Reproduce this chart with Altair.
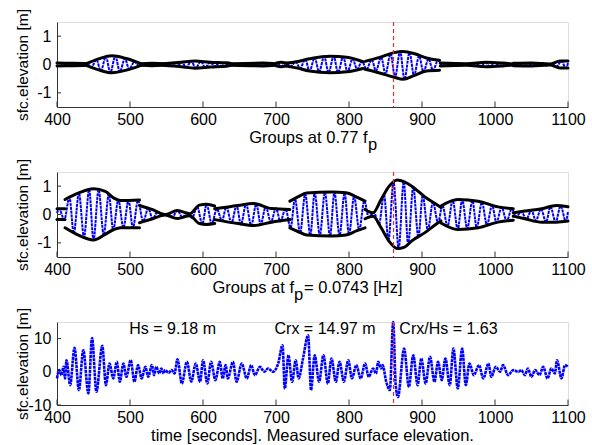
import altair as alt
import pandas as pd

# ---------------- data ----------------
X_TICKS = [400, 500, 600, 700, 800, 900, 1000, 1100]
CREST_T = [861]
Y12_TICKS = [-1, 0, 1]
Y3_TICKS = [-10, 0, 10]

# panel 1: filtered group signal at 0.77 fp (time, elevation) at crests/troughs
p1_wave = [(400, 0), (402, 0.04), (408, -0.04), (415, 0.04), (421, -0.04), (428, 0.04), (434, -0.04),
           (441, 0.04), (447, -0.1), (454, 0.17), (460, -0.23), (467, 0.28), (473, -0.29), (480, 0.3),
           (486, -0.26), (493, 0.21), (499, -0.17), (506, 0.1), (512, -0.04), (519, 0.03), (525, -0.03),
           (532, 0.03), (538, -0.03), (545, 0.03), (551, -0.04), (558, 0.05), (564, -0.07), (571, 0.08),
           (577, -0.1), (584, 0.12), (590, -0.13), (597, 0.11), (603, -0.1), (610, 0.08), (616, -0.07),
           (623, 0.07), (629, -0.06), (636, 0.03), (642, -0.03), (649, 0.03), (655, -0.03), (662, 0.03),
           (668, -0.03), (675, 0.03), (681, -0.03), (688, 0.03), (694, -0.03), (701, 0.06), (707, -0.07),
           (714, 0.05), (720, -0.07), (727, 0.1), (733, -0.14), (740, 0.18), (746, -0.23), (753, 0.24),
           (759, -0.26), (766, 0.28), (772, -0.29), (779, 0.29), (785, -0.28), (792, 0.27), (798, -0.26),
           (805, 0.2), (811, -0.16), (818, 0.11), (824, -0.17), (831, 0.17), (837, -0.22), (844, 0.26),
           (850, -0.33), (857, 0.38), (863, -0.45), (870, 0.46), (876, -0.52), (883, 0.42), (889, -0.4),
           (896, 0.3), (902, -0.26), (909, 0.2), (915, -0.21), (922, 0.15), (928, -0.05), (935, 0.04),
           (941, -0.04), (948, 0.03), (954, -0.03), (961, 0.03), (967, -0.04), (974, 0.05), (980, -0.07),
           (987, 0.08), (993, -0.08), (1000, 0.07), (1006, -0.06), (1013, 0.05), (1019, -0.04), (1026, 0.03),
           (1032, -0.04), (1039, 0.05), (1045, -0.05), (1052, 0.05), (1058, -0.05), (1065, 0.04),
           (1071, -0.03), (1078, 0.03), (1084, -0.08), (1091, 0.12), (1097, -0.12), (1100, 0.05)]

# panel 1 envelope: (segment, time, upper, lower)
p1_env = [(0, 400, 0.05, -0.05), (0, 422, 0.04, -0.04), (0, 440, 0.03, -0.03),
          (1, 440, 0.03, -0.03), (1, 457, 0.2, -0.19), (1, 475, 0.31, -0.29), (1, 495, 0.21, -0.2), (1, 515, 0.03, -0.03),
          (2, 515, 0.03, -0.03), (2, 530, 0.04, -0.04), (2, 545, 0.03, -0.03),
          (3, 545, 0.03, -0.03), (3, 570, 0.08, -0.08), (3, 589, 0.12, -0.13), (3, 610, 0.08, -0.09), (3, 632, 0.06, -0.06), (3, 640, 0.02, -0.02),
          (4, 640, 0.03, -0.03), (4, 682, 0.05, -0.05), (4, 700, 0.03, -0.03),
          (5, 700, 0.05, -0.05), (5, 707, 0.08, -0.08), (5, 714, 0.05, -0.05),
          (6, 714, 0.05, -0.05), (6, 728, 0.1, -0.12), (6, 746, 0.2, -0.23), (6, 774, 0.29, -0.29), (6, 797, 0.26, -0.26), (6, 819, 0.1, -0.14),
          (7, 822, 0.11, -0.17), (7, 842, 0.25, -0.3), (7, 862, 0.42, -0.45), (7, 874, 0.46, -0.52), (7, 890, 0.38, -0.38), (7, 906, 0.23, -0.23), (7, 924, 0.15, -0.2),
          (8, 925, 0.05, -0.05), (8, 961, 0.03, -0.03), (8, 988, 0.08, -0.08), (8, 1011, 0.05, -0.05), (8, 1025, 0.02, -0.02),
          (9, 1025, 0.04, -0.04), (9, 1050, 0.05, -0.05), (9, 1075, 0.02, -0.02), (9, 1089, 0.12, -0.12), (9, 1100, 0.12, -0.12)]

# panel 2: groups at fp
p2_wave = [(400, 0.05), (403, 0.2), (410, -0.18), (417, 0.6), (423, -0.66), (430, 0.76), (437, -0.8), (444, 0.88),
           (450, -0.9), (457, 0.87), (464, -0.72), (471, 0.72), (477, -0.55), (484, 0.52), (491, -0.47),
           (498, 0.5), (504, -0.47), (511, 0.5), (518, -0.25), (525, 0.22), (531, -0.15), (538, 0.1),
           (545, -0.03), (552, 0.03), (558, -0.08), (565, 0.14), (572, -0.1), (578, 0.06), (585, -0.12),
           (592, 0.28), (599, -0.34), (605, 0.36), (612, -0.33), (619, 0.2), (626, -0.22), (632, 0.27),
           (639, -0.3), (646, 0.32), (652, -0.35), (659, 0.37), (666, -0.39), (673, 0.37), (679, -0.34),
           (686, 0.27), (693, -0.27), (700, 0.22), (706, -0.24), (713, 0.2), (720, -0.47), (726, 0.55),
           (733, -0.65), (740, 0.72), (747, -0.72), (753, 0.77), (760, -0.74), (767, 0.78), (774, -0.76),
           (780, 0.78), (787, -0.74), (794, 0.76), (800, -0.7), (807, 0.64), (814, -0.55), (821, 0.48),
           (827, -0.1), (834, 0.08), (841, -0.35), (848, 0.7), (854, -0.92), (861, 1.15), (868, -1.2),
           (875, 1.16), (881, -1.05), (888, 0.97), (895, -0.8), (901, 0.67), (908, -0.55), (915, 0.43),
           (922, -0.29), (928, 0.32), (935, -0.42), (942, 0.5), (949, -0.53), (955, 0.52), (962, -0.5),
           (969, 0.49), (975, -0.47), (982, 0.43), (989, -0.37), (996, 0.33), (1002, -0.28), (1009, 0.25),
           (1016, -0.23), (1023, 0.2), (1029, -0.08), (1036, 0.1), (1043, -0.16), (1050, 0.15), (1056, -0.22),
           (1063, 0.2), (1070, -0.27), (1076, 0.28), (1083, -0.27), (1090, 0.3), (1097, -0.24), (1100, 0.1)]

p2_env = [(0, 400, 0.2, -0.18), (0, 411, 0.2, -0.18),
          (1, 411, 0.53, -0.47), (1, 430, 0.76, -0.74), (1, 450, 0.91, -0.9), (1, 466, 0.82, -0.7), (1, 478, 0.58, -0.53), (1, 487, 0.49, -0.47), (1, 513, 0.51, -0.47),
          (2, 513, 0.32, -0.29), (2, 530, 0.18, -0.16), (2, 548, 0.0, -0.02), (2, 565, 0.14, -0.14), (2, 582, 0.03, -0.04), (2, 595, 0.33, -0.32), (2, 605, 0.36, -0.35), (2, 616, 0.3, -0.32),
          (3, 616, 0.2, -0.18), (3, 648, 0.32, -0.32), (3, 669, 0.39, -0.39), (3, 694, 0.21, -0.27), (3, 719, 0.18, -0.18),
          (4, 719, 0.47, -0.47), (4, 730, 0.62, -0.6), (4, 742, 0.76, -0.72), (4, 776, 0.79, -0.76), (4, 796, 0.77, -0.72), (4, 810, 0.62, -0.58), (4, 822, 0.47, -0.47),
          (5, 822, 0.18, -0.15), (5, 833, 0.06, -0.06), (5, 844, 0.53, -0.47), (5, 855, 1.0, -0.95), (5, 866, 1.22, -1.2), (5, 876, 1.15, -1.15), (5, 886, 1.0, -0.93), (5, 904, 0.62, -0.64), (5, 922, 0.32, -0.29), (5, 926, 0.25, -0.22),
          (6, 926, 0.3, -0.3), (6, 949, 0.53, -0.53), (6, 977, 0.47, -0.47), (6, 1004, 0.27, -0.27), (6, 1025, 0.2, -0.2),
          (7, 1025, 0.06, -0.06), (7, 1041, 0.12, -0.15), (7, 1064, 0.2, -0.27), (7, 1084, 0.32, -0.27), (7, 1100, 0.27, -0.23)]

# panel 3: measured surface elevation (time, elevation) at crests/troughs
p3_wave = [(400, -2), (403, 0.5), (406, -1), (409, 1.5), (411, -2), (413, 3.5), (418, -4), (424, 7.2), (430, -5.5),
           (436, 6.5), (443, -6.5), (448, 10.2), (454, -6), (462, 7.8), (467, -4), (472, 2.5), (477, -2), (482, 3),
           (486, -3), (491, 2.5), (495, -1.5), (501, 3.5), (506, -3), (511, 2), (516, -2), (521, 1.5), (525, -1.5),
           (530, 2), (533, -1), (536, 1.5), (540, -0.5), (543, 1), (546, -0.5), (548, 0.5), (553, -0.3), (557, 0.5),
           (561, -0.5), (565, 3.8), (571, -3.5), (578, 3), (584, -3), (590, 2.5), (596, -3), (600, 3.5), (606, -3.5),
           (611, 3), (617, -2.5), (623, 3), (627, -2), (631, 2), (634, -2), (641, 3), (646, -3), (653, 2.5), (660, -2),
           (666, 2), (671, -1), (678, 1.5), (684, 0), (689, 1), (696, 0), (703, 2.5), (709, 8), (712, -5), (717, 5),
           (722, -3), (727, 3.5), (731, -2), (737, 4), (744, 11), (748, -5.5), (753, 5), (759, -3), (765, 5),
           (771, -3.5), (776, 4), (782, -3), (787, 3), (793, -3), (799, 3.5), (804, -2), (810, 2), (816, -2),
           (822, 2.5), (827, -1.5), (833, 1), (837, -0.5), (840, 3), (844, 1), (846, 2), (851, -3), (856, -5.5),
           (860.5, 15), (864, -4), (867, -7.6), (875.5, 7), (882, -4.5), (888, 5), (894, -4), (899, 4), (905, -3.5),
           (911, 4.5), (917, -3), (922, 3), (927, -2.5), (932, 4), (938, -4), (943, 7), (949, -5), (955, 7),
           (960, -4), (965, 2.5), (971, -1), (978, 2), (984, -2), (991, 2.5), (995, -1.5), (1001, 1.5), (1007, 0),
           (1011, 2), (1018, -1), (1025, 0.5), (1032, 0), (1036, 0.5), (1041, -1), (1045, 1), (1050, -1.5),
           (1055, 0.5), (1061, -1), (1066, 1.5), (1072, -2), (1077, 1), (1082, -0.5), (1085, 3.5), (1091, -2),
           (1096, 2), (1100, 1.5)]

annot_text = ["Hs = 9.18 m", "Crx = 14.97 m", "Crx/Hs = 1.63"]
annot_t = [499, 698, 869]
annot_v = [11.5, 11.5, 11.5]

# ---------------- styling ----------------
W = 511
FONT = "Liberation Sans"
AX = "#333333"
BLUE = "#0000ff"
RED = "#e03030"


def build_panel(wave, env, ydom, yticks, H, title_parts, wave_width, wave_dash, annot=None):
    xs = alt.Scale(domain=[400, 1100], nice=False, zero=False)
    ys = alt.Scale(domain=ydom, nice=False, zero=False)
    xax = alt.Axis(values=X_TICKS, title=None, grid=False, ticks=False, tickSize=0, labelPadding=4,
                   labelFlush=False, labelOverlap=False, labelFontSize=16, labelFont=FONT,
                   labelColor="black", domainColor=AX, labelExpr="datum.value")
    yax = alt.Axis(values=yticks, title="sfc.elevation [m]", grid=False, ticks=False, tickSize=0,
                   labelPadding=6, labelFlush=False, labelOverlap=False, labelFontSize=16,
                   labelFont=FONT, labelColor="black", domainColor=AX, labelExpr="datum.value",
                   titleFont=FONT, titleFontSize=15.5, titleFontWeight="normal", titleColor="black",
                   titleX=-29.5, titleY=H / 2, titleAngle=270, titleAlign="center",
                   titleBaseline="alphabetic")
    X = alt.X("t:Q", scale=xs, axis=xax)
    Y = alt.Y("v:Q", scale=ys, axis=yax)

    wdf = pd.DataFrame(wave, columns=["t", "v"])
    layers = [
        alt.Chart(wdf).mark_line(stroke=BLUE, interpolate="monotone", strokeWidth=wave_width,
                                 strokeDash=wave_dash).encode(x=X, y=Y)
    ]
    if env is not None:
        rows = []
        for seg, t, up, lo in env:
            rows.append({"key": f"{seg}u", "t": t, "v": up})
            rows.append({"key": f"{seg}l", "t": t, "v": lo})
        edf = pd.DataFrame(rows)
        layers.append(
            alt.Chart(edf).mark_line(stroke="black", interpolate="monotone", strokeWidth=3,
                                     strokeCap="round")
            .encode(x=X, y=Y, detail="key:N", order="t:Q")
        )
    if annot is not None:
        adf = pd.DataFrame({"t": annot[0], "v": annot[1], "s": annot[2]})
        layers.append(
            alt.Chart(adf).mark_text(align="left", baseline="alphabetic", font=FONT, fontSize=16,
                                     color="black").encode(x=X, y=Y, text="s:N")
        )
    # red dashed marker at the largest crest
    layers.append(
        alt.Chart(pd.DataFrame({"t": CREST_T})).mark_rule(stroke=RED, strokeDash=[4, 3], strokeWidth=1.2,
                                                         opacity=1)
        .encode(x=X)
    )
    # inward ticks
    layers.append(
        alt.Chart(pd.DataFrame({"t": X_TICKS})).mark_rule(stroke=AX, strokeWidth=1)
        .encode(x=X, y=alt.value(H), y2=alt.value(H - 5.5))
    )
    layers.append(
        alt.Chart(pd.DataFrame({"v": yticks})).mark_rule(stroke=AX, strokeWidth=1)
        .encode(y=Y, x=alt.value(0), x2=alt.value(4))
    )
    # x-axis title pieces (with subscript)
    for text, px, dy, align in title_parts:
        layers.append(
            alt.Chart(pd.DataFrame({"s": [text]})).mark_text(
                align=align, baseline="alphabetic", font=FONT, fontSize=16.5, color="black")
            .encode(text="s:N", x=alt.value(px), y=alt.value(H + dy))
        )
    return alt.layer(*layers).properties(width=W, height=H)


p1 = build_panel(p1_wave, p1_env, [-1.5, 1.5], Y12_TICKS, 85,
                 [("Groups at 0.77 f", 310.5, 35.5, "right"), ("p", 311, 43, "left")],
                 2, [3, 0.8])
p2 = build_panel(p2_wave, p2_env, [-1.5, 1.5], Y12_TICKS, 85,
                 [("Groups at f", 237, 35.5, "right"), ("p", 237, 43, "left"),
                  ("= 0.0743 [Hz]", 247, 35.5, "left")],
                 2, [3, 0.8])
p3 = build_panel(p3_wave, None, [-10, 15], Y3_TICKS, 83,
                 [("time [seconds]. Measured surface elevation.", 255.5, 36, "center")],
                 2.6, [3, 0.7], annot=(annot_t, annot_v, annot_text))

chart = alt.vconcat(p1, p2, p3, spacing=65, bounds="flush").properties(
    padding={"left": 15, "top": 8, "right": 0, "bottom": 0}
).configure_view(stroke=None).configure(background="white")

chart.save("out.html", embed_options={"renderer": "svg", "actions": False})
